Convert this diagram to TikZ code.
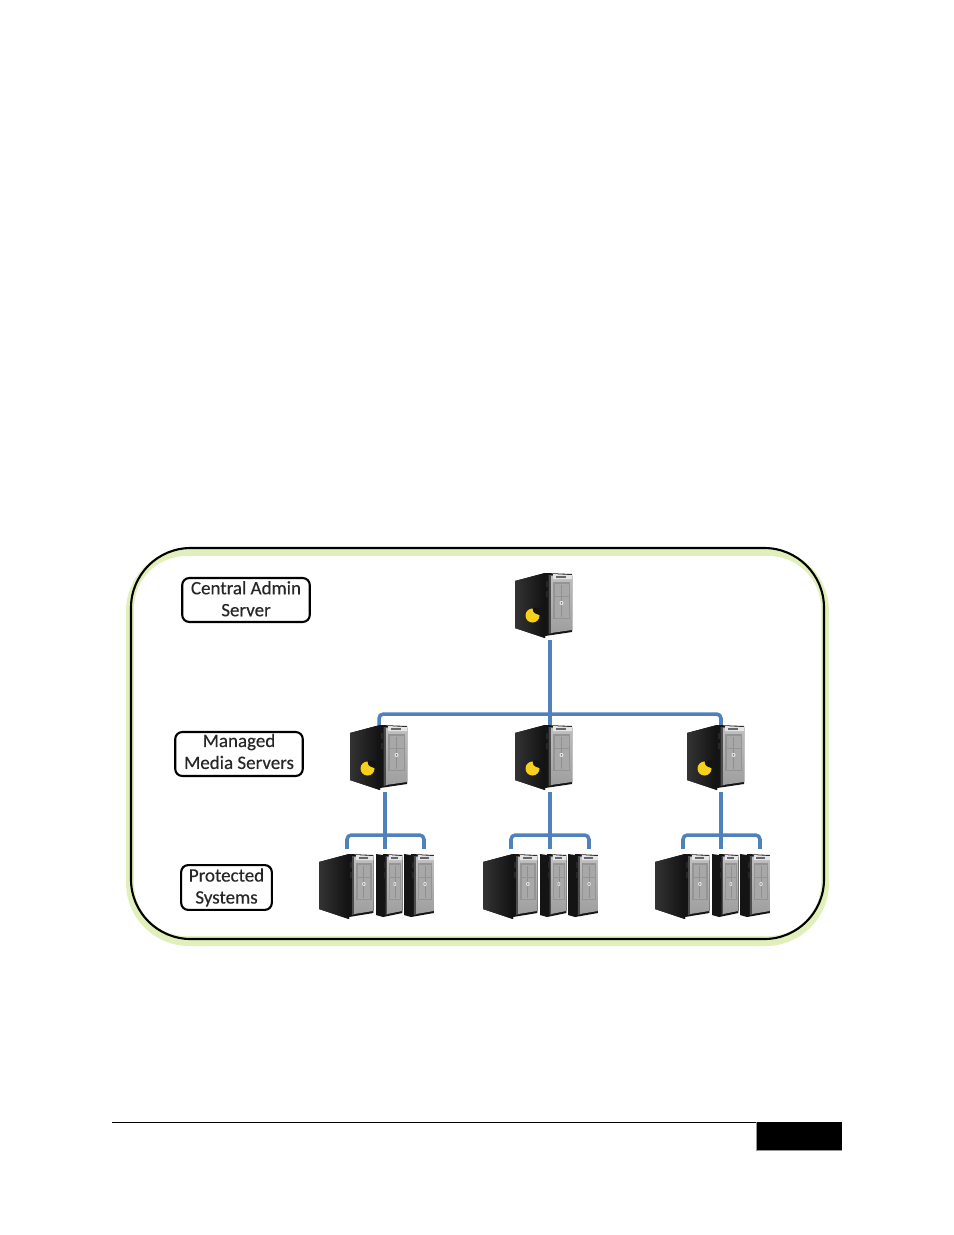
\documentclass[tikz,border=0pt]{standalone}
\usepackage{fontspec}
\setmainfont{Carlito}
\newfontfamily\tagfont[FakeBold=0.25]{Carlito}
\newcommand{\tagdrop}[1]{\rule[-#1]{0pt}{#1}}
\definecolor{linkblue}{HTML}{4F81BD}
\definecolor{glowgreen}{HTML}{E1F0BA}
\definecolor{logoyellow}{HTML}{F7D01C}
\tikzset{
  link/.style={draw=linkblue,line width=2pt,rounded corners=2.5pt},
  tagbox/.style={draw,line width=1.2pt,rounded corners=4pt,align=center,inner sep=0pt,
    font=\tagfont\fontsize{10.8}{12.5}\selectfont,text=black!85},
  srvbox/.style={inner sep=0pt,minimum width=20pt,minimum height=38pt},
  srvlow/.style={inner sep=0pt,minimum width=20pt,minimum height=40.8pt},
  pics/srvfront/.style={code={
    \fill[black!92] (0,0) -- (27,1) -- (27,59) -- (0,63) -- cycle;
    \fill[black!70] (3.5,2) -- (8,2) -- (8,60) -- (3.5,61) -- cycle;
    \fill[top color=black!25,bottom color=black!38] (6,2.5) -- (27,3) -- (27,57) -- (6,60) -- cycle;
    \fill[black!10] (8,1) -- (27,2) -- (27,6) -- (8,6) -- cycle;
    \fill[black!60] (11,2.5) rectangle (21,5);
    \fill[black!42] (8,9) rectangle (25,46);
    \fill[black!34] (9.5,10.5) rectangle (23.5,44.5);
    \fill[black!44] (16,12) rectangle (17,44);
    \fill[black!42] (9.5,23) rectangle (23.5,24);
    \fill[black!8] (16.5,30) circle (2);
    \fill[black!60] (16.5,30) circle (0.9);
    \fill[black!85] (1,8) rectangle (3.5,14);
    \fill[black!85] (1,18) rectangle (3.5,24);
  }},
  pics/srvside/.style={code={
    \fill[left color=black!80,right color=black!93] (-30,8) -- (0,0) -- (0,65) -- (-30,55) -- cycle;
  }},
  pics/srvstrip/.style={code={
    \fill[black!92] (-7,0) -- (0,1) -- (0,63) -- (-7,61) -- cycle;
  }},
  pics/srvlogo/.style={code={
    \fill[logoyellow] (0,0) circle (7);
    \fill[black!92] (0.5,-8) .. controls (0,-4) and (1.5,-2) .. (3,-2) -- (8,0) -- (8,-8) -- cycle;
  }}
}
\begin{document}
\begin{tikzpicture}[x=0.02cm,y=-0.02cm]
\useasboundingbox (0,0) rectangle (954,1235);

% frame
\fill[glowgreen,rounded corners=36pt] (126,548) rectangle (829,946);
\fill[white,rounded corners=30pt] (134,556) rectangle (821,936);
\draw[line width=1.2pt,rounded corners=34pt] (131,548) rectangle (824,939);

% labels on the left
\node[tagbox,minimum width=72.6pt,minimum height=25pt] (tagcentral) at (246,600) {Central Admin\\Server\tagdrop{1.5pt}};
\node[tagbox,minimum width=72.6pt,minimum height=25pt] (tagmanaged) at (239,754) {Managed\\Media Servers\tagdrop{3pt}};
\node[tagbox,minimum width=51.6pt,minimum height=25.5pt] (tagprotected) at (226.5,887.5) {Protected\\Systems};

% top server
\node[srvbox] (central) at (550,606.5) {};
\pic at (545,573) {srvside};
\pic at (545,573) {srvfront};
\pic at (532.5,615.5) {srvlogo};

% media servers
\node[srvbox] (mgrA) at (385,758.5) {};
\pic at (380,725) {srvside};
\pic at (380,725) {srvfront};
\pic at (367.5,768.5) {srvlogo};

\node[srvbox] (mgrB) at (550,758.5) {};
\pic at (545,725) {srvside};
\pic at (545,725) {srvfront};
\pic at (532.5,768.5) {srvlogo};

\node[srvbox] (mgrC) at (721,758.5) {};
\pic at (717,725) {srvside};
\pic at (717,725) {srvfront};
\pic at (704.5,768.5) {srvlogo};

% protected systems
\node[srvlow] (protA1) at (347,885) {};
\node[srvlow] (protA2) at (385,885) {};
\node[srvlow] (protA3) at (424,885) {};
\pic at (349,854) {srvside};
\pic[xscale=0.9] at (349,854) {srvfront};
\pic at (383,854) {srvstrip};
\pic[xscale=0.72] at (383,854) {srvfront};
\pic at (411,854) {srvstrip};
\pic[xscale=0.85] at (411,854) {srvfront};

\node[srvlow] (protB1) at (511,885) {};
\node[srvlow] (protB2) at (550,885) {};
\node[srvlow] (protB3) at (589,885) {};
\pic at (513,854) {srvside};
\pic[xscale=0.9] at (513,854) {srvfront};
\pic at (547,854) {srvstrip};
\pic[xscale=0.72] at (547,854) {srvfront};
\pic at (575,854) {srvstrip};
\pic[xscale=0.85] at (575,854) {srvfront};

\node[srvlow] (protC1) at (683,885) {};
\node[srvlow] (protC2) at (721,885) {};
\node[srvlow] (protC3) at (760,885) {};
\pic at (685,854) {srvside};
\pic[xscale=0.9] at (685,854) {srvfront};
\pic at (719,854) {srvstrip};
\pic[xscale=0.72] at (719,854) {srvfront};
\pic at (747,854) {srvstrip};
\pic[xscale=0.85] at (747,854) {srvfront};

% connectors
\coordinate (busmid) at (550,714);
\coordinate (tapA) at (385,835);
\coordinate (tapB) at (550,835);
\coordinate (tapC) at (721,835);
\draw[link] (central.south) -- (mgrB.north);
\draw[link] ([xshift=-3.4pt]mgrA.north) |- (busmid) -| (mgrC.north);
\draw[link] (mgrA.south) -- (protA2.north);
\draw[link] (protA1.north) |- (tapA) -| (protA3.north);
\draw[link] (mgrB.south) -- (protB2.north);
\draw[link] (protB1.north) |- (tapB) -| (protB3.north);
\draw[link] (mgrC.south) -- (protC2.north);
\draw[link] (protC1.north) |- (tapC) -| (protC3.north);

% page footer
\draw[line width=0.5pt] (112,1122) -- (757,1122);
\fill[black!40] (756,1122) rectangle (842,1151);
\fill (757,1122) rectangle (842,1150);
\end{tikzpicture}
\end{document}
